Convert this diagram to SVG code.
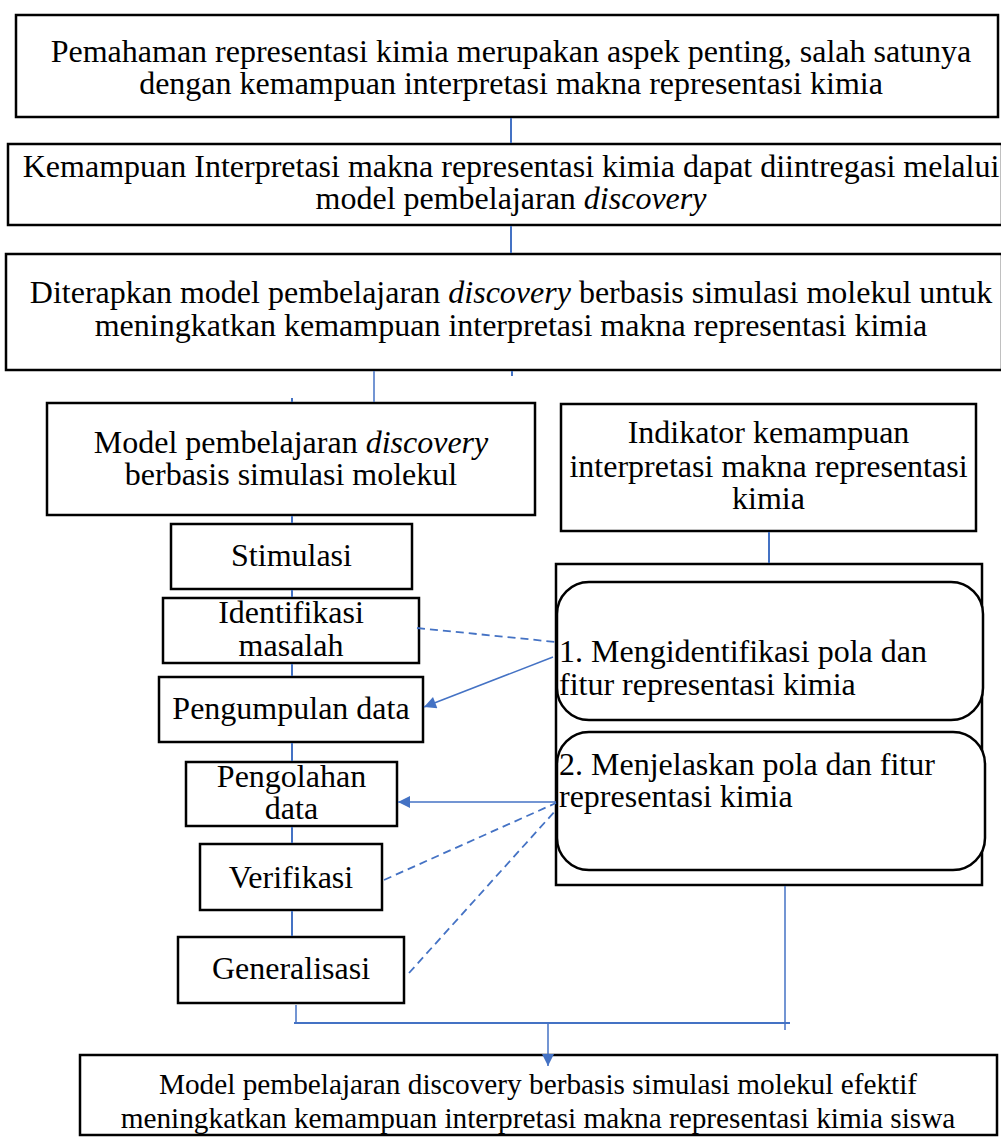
<svg xmlns="http://www.w3.org/2000/svg" width="1001" height="1138" viewBox="0 0 1001 1138">
<defs>
<style>
.box{fill:#fff;stroke:#000;stroke-width:2.5}
.rbox{fill:#fff;stroke:#000;stroke-width:2.5}
text{font-family:"Liberation Serif","Times New Roman",serif;font-size:32px;fill:#000}
.c{text-anchor:middle}
.sm{font-size:29.3px}
.ln{stroke:#4472C4;stroke-width:1.5;fill:none}
.lnb{stroke:#4472C4;stroke-width:2;fill:none}
.dash{stroke:#4472C4;stroke-width:1.8;fill:none;stroke-dasharray:8,5}
</style>
<marker id="arr" viewBox="0 0 10 10" refX="10" refY="5" markerWidth="14" markerHeight="12" markerUnits="userSpaceOnUse" orient="auto">
<path d="M0,0 L10,5 L0,10 z" fill="#4472C4"/>
</marker>
</defs>
<rect width="1001" height="1138" fill="#fff"/>
<g id="n1">
<rect class="box" x="16" y="15" width="982" height="102"/>
<text class="c" x="511" y="62">Pemahaman representasi kimia merupakan aspek penting, salah satunya</text>
<text class="c" x="511" y="94">dengan kemampuan interpretasi makna representasi kimia</text>
</g>
<g id="n2">
<rect class="box" x="8" y="144" width="994" height="81"/>
<text class="c" x="511" y="177">Kemampuan Interpretasi makna representasi kimia dapat diintregasi melalui</text>
<text class="c" x="511" y="209">model pembelajaran <tspan font-style="italic">discovery</tspan></text>
</g>
<g id="n3">
<rect class="box" x="6" y="254" width="996" height="116"/>
<text class="c" x="511" y="303">Diterapkan model pembelajaran <tspan font-style="italic">discovery</tspan> berbasis simulasi molekul untuk</text>
<text class="c" x="511" y="336">meningkatkan kemampuan interpretasi makna representasi kimia</text>
</g>
<g id="n4">
<rect class="box" x="47" y="403" width="488" height="112"/>
<text class="c" x="291" y="453">Model pembelajaran <tspan font-style="italic">discovery</tspan></text>
<text class="c" x="291" y="485">berbasis simulasi molekul</text>
</g>
<g id="n5">
<rect class="box" x="171" y="524" width="241" height="65"/>
<text class="c" x="291.5" y="566">Stimulasi</text>
</g>
<g id="n6">
<rect class="box" x="163" y="598" width="256" height="65"/>
<text class="c" x="291" y="623">Identifikasi</text>
<text class="c" x="291" y="656">masalah</text>
</g>
<g id="n7">
<rect class="box" x="159" y="677" width="264" height="65"/>
<text class="c" x="291" y="719">Pengumpulan data</text>
</g>
<g id="n8">
<rect class="box" x="186" y="762" width="211" height="64"/>
<text class="c" x="291.5" y="787">Pengolahan</text>
<text class="c" x="291.5" y="819">data</text>
</g>
<g id="n9">
<rect class="box" x="200" y="844" width="182" height="66"/>
<text class="c" x="291" y="888">Verifikasi</text>
</g>
<g id="n10">
<rect class="box" x="178" y="937" width="226" height="66"/>
<text class="c" x="291" y="979">Generalisasi</text>
</g>
<g id="n11">
<rect class="box" x="561" y="404" width="415" height="127"/>
<text class="c" x="768.5" y="443">Indikator kemampuan</text>
<text class="c" x="768.5" y="477">interpretasi makna representasi</text>
<text class="c" x="768.5" y="509">kimia</text>
</g>
<g id="n12">
<rect class="box" x="556" y="564" width="426" height="321"/>
</g>
<g id="n13">
<rect class="rbox" x="557" y="582" width="426" height="138" rx="32" ry="32"/>
<text x="559" y="662">1. Mengidentifikasi pola dan</text>
<text x="559" y="695">fitur representasi kimia</text>
</g>
<g id="n14">
<rect class="rbox" x="557" y="732" width="428" height="138" rx="32" ry="32"/>
<text x="559" y="775">2. Menjelaskan pola dan fitur</text>
<text x="559" y="807">representasi kimia</text>
</g>
<g id="n15">
<rect class="box" x="80" y="1055" width="917" height="80"/>
<text class="c sm" x="538" y="1094">Model pembelajaran discovery berbasis simulasi molekul efektif</text>
<text class="c sm" x="538" y="1128">meningkatkan kemampuan interpretasi makna representasi kimia siswa</text>
</g>
<g id="connectors">
<line class="lnb" x1="511" y1="118" x2="511" y2="143"/>
<line class="lnb" x1="511" y1="226" x2="511" y2="253"/>
<line class="ln" x1="374" y1="371" x2="374" y2="402"/>
<line class="lnb" x1="512" y1="371" x2="512" y2="376"/>
<line class="lnb" x1="292" y1="398" x2="292" y2="402"/>
<line class="lnb" x1="292" y1="516" x2="292" y2="523"/>
<line class="lnb" x1="292" y1="590" x2="292" y2="597"/>
<line class="lnb" x1="292" y1="664" x2="292" y2="676"/>
<line class="lnb" x1="292" y1="743" x2="292" y2="761"/>
<line class="lnb" x1="292" y1="827" x2="292" y2="843"/>
<line class="lnb" x1="292" y1="911" x2="292" y2="936"/>
<line class="lnb" x1="769" y1="532" x2="769" y2="563"/>
<line class="dash" x1="417" y1="628" x2="556" y2="642"/>
<line class="ln" x1="553" y1="657" x2="424" y2="707" marker-end="url(#arr)"/>
<line class="ln" x1="556" y1="802" x2="398" y2="802" marker-end="url(#arr)"/>
<line class="dash" x1="384" y1="880" x2="556" y2="803"/>
<line class="dash" x1="409" y1="973" x2="556" y2="810"/>
<line class="ln" x1="296" y1="1005" x2="296" y2="1023"/>
<line class="ln" x1="785" y1="886" x2="785" y2="1030"/>
<line class="lnb" x1="294" y1="1023" x2="790" y2="1023"/>
<line class="ln" x1="548" y1="1023" x2="548" y2="1066" marker-end="url(#arr)"/>
</g>
</svg>
